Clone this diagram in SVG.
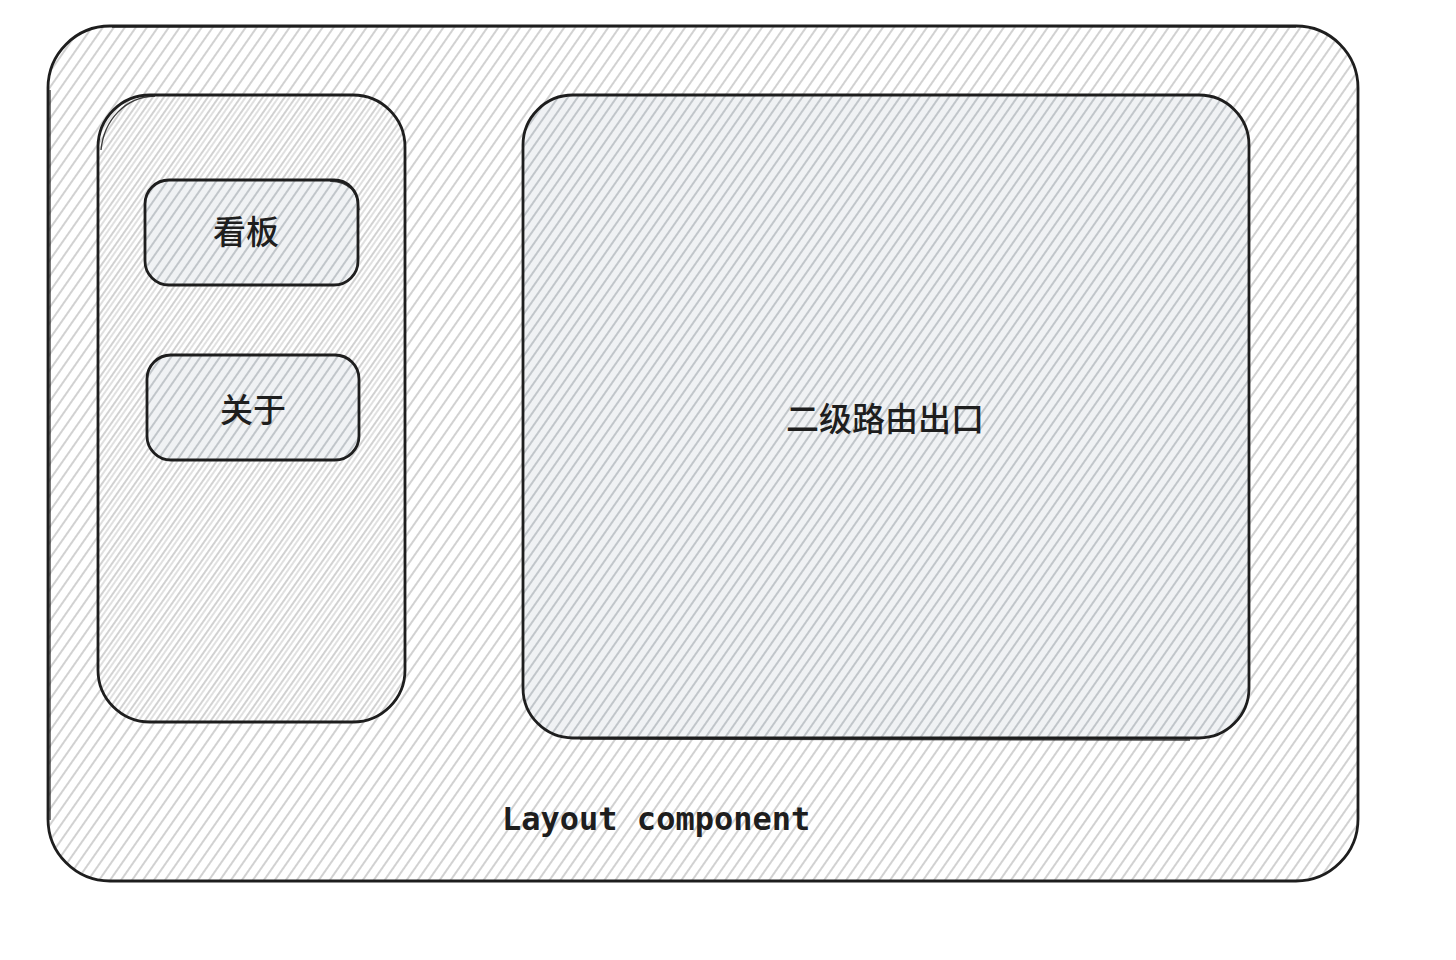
<svg xmlns="http://www.w3.org/2000/svg" width="1456" height="960" viewBox="0 0 1456 960">
  <defs>
    <pattern id="hatchOuter" patternUnits="userSpaceOnUse" width="9" height="9" patternTransform="rotate(35)">
      <line x1="1" y1="0" x2="1" y2="9" stroke="#c6c6c6" stroke-width="1.6"/>
    </pattern>
    <pattern id="hatchSide" patternUnits="userSpaceOnUse" width="9" height="9" patternTransform="rotate(35) translate(4 0)">
      <line x1="1" y1="0" x2="1" y2="9" stroke="#d0d0d0" stroke-width="1.3"/>
    </pattern>
    <pattern id="hatchInner" patternUnits="userSpaceOnUse" width="8" height="8" patternTransform="rotate(35)">
      <line x1="1" y1="0" x2="1" y2="8" stroke="#b9bec3" stroke-width="1.7"/>
    </pattern>
  </defs>
  <style>
    .box { stroke: #1e1e1e; stroke-width: 2.8; }
    .sk { fill: none; stroke: #1e1e1e; stroke-width: 1.4; opacity: 0.85; }
    .outerFill { fill: url(#hatchOuter); }
    .sideFill { fill: url(#hatchSide); }
    .innerBase { fill: #f0f2f4; }
    .innerFill { fill: url(#hatchInner); }
    .cjk { font-family: "Noto Sans CJK SC", "Noto Sans", sans-serif; font-size: 33px; font-weight: 500; fill: #1e1e1e; text-anchor: middle; dominant-baseline: central; }
    .mono { font-family: "DejaVu Sans Mono", "Liberation Mono", monospace; font-size: 32px; font-weight: bold; fill: #1e1e1e; }
  </style>
  <rect width="1456" height="960" fill="#ffffff"/>
  <g id="layout">
    <rect x="48" y="26" width="1310" height="855" rx="62" class="outerFill"/>
    <rect x="48" y="26" width="1310" height="855" rx="62" fill="none" class="box"/>
    <path class="sk" d="M112 27 C 500 24, 900 26, 1296 27 M50 90 C 48 400, 49 700, 50 820"/>
    <text x="502" y="830" class="mono">Layout component</text>
  </g>
  <g id="sidebar">
    <rect x="98" y="95" width="307" height="627" rx="52" class="sideFill"/>
    <rect x="98" y="95" width="307" height="627" rx="52" fill="none" class="box"/>
    <path class="sk" d="M101 150 C 104 120, 125 97, 155 96"/>
  </g>
  <g id="item-kanban">
    <rect x="145" y="180" width="213" height="105" rx="24" class="innerBase"/>
    <rect x="145" y="180" width="213" height="105" rx="24" class="innerFill"/>
    <rect x="145" y="180" width="213" height="105" rx="24" fill="none" class="box"/>
    <path class="sk" d="M330 181 C 350 182, 358 192, 359 210"/>
    <text x="246" y="230" class="cjk">看板</text>
  </g>
  <g id="item-about">
    <rect x="147" y="355" width="212" height="105" rx="24" class="innerBase"/>
    <rect x="147" y="355" width="212" height="105" rx="24" class="innerFill"/>
    <rect x="147" y="355" width="212" height="105" rx="24" fill="none" class="box"/>
    <text x="253" y="408" class="cjk">关于</text>
  </g>
  <g id="outlet">
    <rect x="523" y="95" width="726" height="643" rx="50" class="innerBase"/>
    <rect x="523" y="95" width="726" height="643" rx="50" class="innerFill"/>
    <rect x="523" y="95" width="726" height="643" rx="50" fill="none" class="box"/>
    <path class="sk" d="M580 739 C 800 741, 1000 738, 1190 740"/>
    <text x="885" y="417" class="cjk">二级路由出口</text>
  </g>
  <g id="connectors"></g>
</svg>
